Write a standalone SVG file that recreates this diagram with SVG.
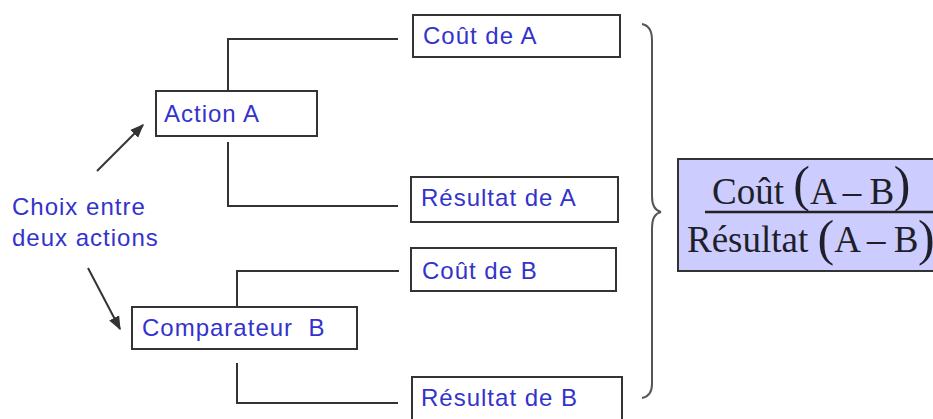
<svg xmlns="http://www.w3.org/2000/svg" width="933" height="419" viewBox="0 0 933 419">
<defs>
<style>
.box{fill:#fff;stroke:#333;stroke-width:2}
.lbl{font-family:"Liberation Sans",Arial,sans-serif;font-size:24px;letter-spacing:1px;fill:#3333cc;white-space:pre}
.ln{fill:none;stroke:#333;stroke-width:2}
.fx{font-family:"Liberation Serif","Times New Roman",serif;font-size:37px;fill:#1f1f2a}
.par{font-size:50px}
.ab{letter-spacing:-0.5px}
</style>
<marker id="ah" viewBox="0 0 10 10" refX="9" refY="5" markerWidth="7" markerHeight="7" orient="auto">
<path d="M0,1 L10,5 L0,9 z" fill="#333"/>
</marker>
</defs>
<rect width="933" height="419" fill="#fff"/>
<g id="connectors">
<path class="ln" d="M228,91 V39 H398"/>
<path class="ln" d="M228,142 V206 H398"/>
<path class="ln" d="M237,307 V271 H399"/>
<path class="ln" d="M237,363 V403 H398"/>
<line class="ln" x1="97" y1="171" x2="143" y2="125" marker-end="url(#ah)"/>
<line class="ln" x1="88" y1="268" x2="120" y2="329" marker-end="url(#ah)"/>
<path d="M642,24 Q652,26 652,40 V196 Q652,210 661,212 Q652,214 652,228 V384 Q652,396 642,398" fill="none" stroke="#555" stroke-width="2"/>
</g>
<g id="choix">
<text class="lbl" x="12" y="215">Choix entre</text>
<text class="lbl" x="12" y="246">deux actions</text>
</g>
<g id="actionA">
<rect class="box" x="156" y="91" width="161" height="45"/>
<text class="lbl" x="164" y="122">Action A</text>
</g>
<g id="comparateurB">
<rect class="box" x="132" y="307" width="225" height="42"/>
<text class="lbl" x="142" y="336">Comparateur  B</text>
</g>
<g id="coutA">
<rect class="box" x="413" y="15" width="207" height="42"/>
<text class="lbl" x="423" y="44">Coût de A</text>
</g>
<g id="resultatA">
<rect class="box" x="411" y="177" width="207" height="45"/>
<text class="lbl" x="421" y="206">Résultat de A</text>
</g>
<g id="coutB">
<rect class="box" x="411" y="248" width="205" height="43"/>
<text class="lbl" x="422" y="279">Coût de B</text>
</g>
<g id="resultatB">
<rect class="box" x="412" y="377" width="210" height="50"/>
<text class="lbl" x="421" y="406">Résultat de B</text>
</g>
<g id="formula">
<rect x="678" y="159" width="270" height="112" fill="#ccccff" stroke="#333" stroke-width="2"/>
<line x1="705" y1="212" x2="933" y2="212" stroke="#222" stroke-width="2.5"/>
<text class="fx" x="712" y="204">Coût <tspan class="par" dy="-3">(</tspan><tspan class="ab" dy="3">A – B</tspan><tspan class="par" dy="-3">)</tspan></text>
<text class="fx" x="687" y="252">Résultat <tspan class="par" dy="3">(</tspan><tspan class="ab" dy="-3">A – B</tspan><tspan class="par" dy="3">)</tspan></text>
</g>
</svg>
